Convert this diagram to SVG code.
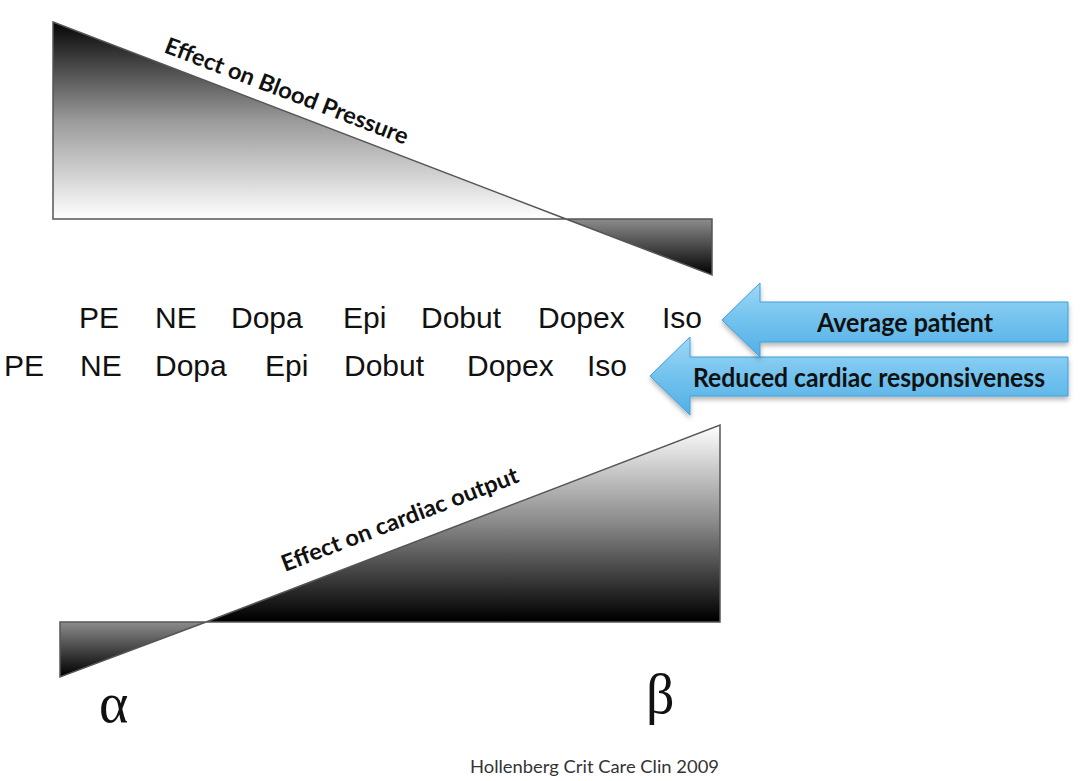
<svg xmlns="http://www.w3.org/2000/svg" width="1080" height="781" viewBox="0 0 1080 781">
<defs>
<linearGradient id="gTopBig" gradientUnits="userSpaceOnUse" x1="0" y1="22" x2="0" y2="219">
<stop offset="0" stop-color="#050505"/><stop offset="0.5" stop-color="#9a9a9a"/><stop offset="1" stop-color="#ffffff"/>
</linearGradient>
<linearGradient id="gTopSmall" gradientUnits="userSpaceOnUse" x1="0" y1="219" x2="0" y2="275">
<stop offset="0" stop-color="#8c8c8c"/><stop offset="1" stop-color="#000000"/>
</linearGradient>
<linearGradient id="gBotBig" gradientUnits="userSpaceOnUse" x1="0" y1="425" x2="0" y2="620">
<stop offset="0" stop-color="#ffffff"/><stop offset="0.5" stop-color="#8a8a8a"/><stop offset="1" stop-color="#000000"/>
</linearGradient>
<linearGradient id="gBotSmall" gradientUnits="userSpaceOnUse" x1="0" y1="622" x2="0" y2="676">
<stop offset="0" stop-color="#8c8c8c"/><stop offset="1" stop-color="#000000"/>
</linearGradient>
<linearGradient id="gArrow" x1="0" y1="0" x2="0" y2="1">
<stop offset="0" stop-color="#9fd8f6"/><stop offset="0.5" stop-color="#72c2ee"/><stop offset="1" stop-color="#52b0e6"/>
</linearGradient>
<filter id="shadow" x="-5%" y="-20%" width="110%" height="150%">
<feDropShadow dx="0" dy="3" stdDeviation="2.5" flood-color="#000" flood-opacity="0.3"/>
</filter>
</defs>
<style>
.tri{stroke:#555;stroke-width:1.5;stroke-linejoin:miter}
.drug{font-family:"Liberation Sans",Arial,sans-serif;font-size:30px;fill:#111}
.slant{font-family:Lato,"Open Sans",sans-serif;font-weight:bold;font-size:23px;fill:#111}
.arrow{fill:url(#gArrow);stroke:#3f9fd8;stroke-width:1;filter:url(#shadow)}
.alabel{font-family:Lato,"Open Sans",sans-serif;font-weight:bold;font-size:26px;fill:#111}
.greek{font-family:"Liberation Serif","Times New Roman",serif;font-size:56px;fill:#111}
.cite{font-family:Lato,"Open Sans",sans-serif;font-size:17px;fill:#333}
</style>
<rect width="1080" height="781" fill="#ffffff"/>

<g id="bp-effect">
<polygon class="tri" points="53,22 566,219 53,219" fill="url(#gTopBig)"/>
<polygon class="tri" points="566,219 712,219 712,275" fill="url(#gTopSmall)"/>
<text class="slant" transform="translate(163,52) rotate(21)" textLength="259" lengthAdjust="spacingAndGlyphs">Effect on Blood Pressure</text>
</g>

<g id="co-effect">
<polygon class="tri" points="206,622 720,425 720,622" fill="url(#gBotBig)"/>
<polygon class="tri" points="60,622 206,622 60,677" fill="url(#gBotSmall)"/>
<text class="slant" transform="translate(285,572) rotate(-21)" textLength="252" lengthAdjust="spacingAndGlyphs">Effect on cardiac output</text>
</g>

<g id="row-average">
<text class="drug" x="79" y="328">PE</text>
<text class="drug" x="155" y="328">NE</text>
<text class="drug" x="231" y="328">Dopa</text>
<text class="drug" x="343" y="328">Epi</text>
<text class="drug" x="421" y="328">Dobut</text>
<text class="drug" x="538" y="328">Dopex</text>
<text class="drug" x="662" y="328">Iso</text>
</g>

<g id="row-reduced">
<text class="drug" x="4" y="376">PE</text>
<text class="drug" x="80" y="376">NE</text>
<text class="drug" x="155" y="376">Dopa</text>
<text class="drug" x="265" y="376">Epi</text>
<text class="drug" x="344" y="376">Dobut</text>
<text class="drug" x="467" y="376">Dopex</text>
<text class="drug" x="587" y="376">Iso</text>
</g>

<g id="arrow-reduced">
<polygon class="arrow" points="650,376 690,337 690,357 1068,357 1068,396 690,396 690,415"/>
<text class="alabel" x="869" y="387" text-anchor="middle" textLength="352" lengthAdjust="spacingAndGlyphs">Reduced cardiac responsiveness</text>
</g>

<g id="arrow-average">
<polygon class="arrow" points="722,320 760,283 760,302 1068,302 1068,342 760,342 760,357"/>
<text class="alabel" x="905" y="332" text-anchor="middle" textLength="176" lengthAdjust="spacingAndGlyphs">Average patient</text>
</g>

<g id="axis-labels">
<text class="greek" x="99" y="722">α</text>
<text class="greek" x="646" y="713">β</text>
</g>

<g id="citation">
<text class="cite" x="470" y="773" textLength="249" lengthAdjust="spacingAndGlyphs">Hollenberg Crit Care Clin 2009</text>
</g>

<g id="connectors"/>
</svg>
